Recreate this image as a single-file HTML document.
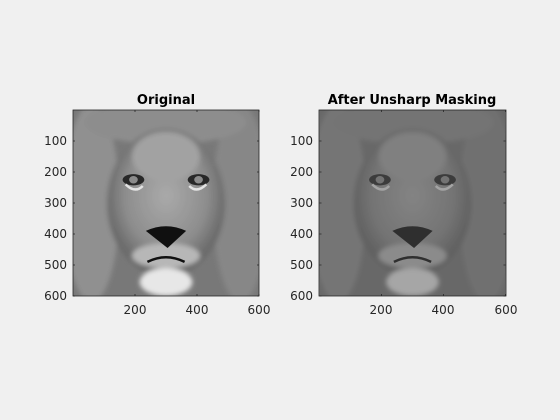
<!DOCTYPE html>
<html><head><meta charset="utf-8"><style>
body{margin:0;background:#f0f0f0;}
svg{display:block;font-family:"DejaVu Sans","Liberation Sans",sans-serif;}
</style></head><body>
<svg width="560" height="420" viewBox="0 0 560 420">
<defs>
<radialGradient id="face" cx="0.5" cy="0.45" r="0.5">
<stop offset="0" stop-color="#a0a0a0"/><stop offset="0.7" stop-color="#8a8a8a"/><stop offset="1" stop-color="#707070"/></radialGradient>
<filter id="blur"><feGaussianBlur stdDeviation="8"/></filter>
<g id="lion">
<rect x="0" y="0" width="600" height="600" fill="#7a7a7a"/>
<g filter="url(#blur)">
<ellipse cx="60" cy="300" rx="90" ry="320" fill="#8c8c8c"/>
<ellipse cx="540" cy="300" rx="90" ry="320" fill="#858585"/>
<ellipse cx="300" cy="40" rx="260" ry="70" fill="#8a8a8a"/>
<ellipse cx="300" cy="300" rx="190" ry="240" fill="url(#face)"/>
<ellipse cx="300" cy="150" rx="110" ry="80" fill="#9a9a9a"/>
<ellipse cx="300" cy="470" rx="110" ry="40" fill="#aaa"/>
<ellipse cx="300" cy="555" rx="85" ry="45" fill="#cfcfcf"/>
</g>
<ellipse cx="195" cy="225" rx="35" ry="18" fill="#3c3c3c"/>
<ellipse cx="195" cy="225" rx="14" ry="12" fill="#888"/>
<path d="M170 240 Q200 270 225 245" stroke="#ccc" stroke-width="8" fill="none"/>
<ellipse cx="405" cy="225" rx="35" ry="18" fill="#3c3c3c"/>
<ellipse cx="405" cy="225" rx="14" ry="12" fill="#888"/>
<path d="M375 245 Q400 270 430 240" stroke="#ccc" stroke-width="8" fill="none"/>
<path d="M235 390 Q300 360 365 390 L305 445 Z" fill="#2a2a2a"/>
<path d="M240 490 Q300 460 360 490" stroke="#2a2a2a" stroke-width="8" fill="none"/>
</g>
<g id="ticksL" stroke="#262626" stroke-width="0.8">
<path d="M73 141h2M73 172h2M73 203h2M73 234h2M73 265h2M73 296h2M259 141h-2M259 172h-2M259 203h-2M259 234h-2M259 265h-2M259 296h-2M135 296v-2M197 296v-2M259 296v-2M135 110v2M197 110v2M259 110v2"/>
</g>
</defs>
<g>
<text x="166" y="104" font-size="13" font-weight="bold" text-anchor="middle">Original</text>
<svg x="73" y="110" width="186" height="186" viewBox="0 0 600 600"><use href="#lion" style="filter:contrast(1.3)"/></svg>
<rect x="73" y="110" width="186" height="186" fill="none" stroke="#262626" stroke-width="0.8"/>
<use href="#ticksL"/>
<g font-size="12" fill="#262626" text-anchor="end">
<text x="67" y="145">100</text><text x="67" y="176">200</text><text x="67" y="207">300</text><text x="67" y="238">400</text><text x="67" y="269">500</text><text x="67" y="300">600</text></g>
<g font-size="12" fill="#262626" text-anchor="middle">
<text x="135" y="314">200</text><text x="197" y="314">400</text><text x="259" y="314">600</text></g>
</g>
<g>
<text x="412" y="104" font-size="13" font-weight="bold" text-anchor="middle">After Unsharp Masking</text>
<svg x="319" y="110" width="187" height="186" viewBox="0 0 600 600"><use href="#lion" style="filter:contrast(0.85) brightness(0.85)"/></svg>
<rect x="319" y="110" width="187" height="186" fill="none" stroke="#262626" stroke-width="0.8"/>
<use href="#ticksL" transform="translate(246.5,0)"/>
<g font-size="12" fill="#262626" text-anchor="end">
<text x="313" y="145">100</text><text x="313" y="176">200</text><text x="313" y="207">300</text><text x="313" y="238">400</text><text x="313" y="269">500</text><text x="313" y="300">600</text></g>
<g font-size="12" fill="#262626" text-anchor="middle">
<text x="381" y="314">200</text><text x="443" y="314">400</text><text x="506" y="314">600</text></g>
</g>
</svg>
</body></html>
